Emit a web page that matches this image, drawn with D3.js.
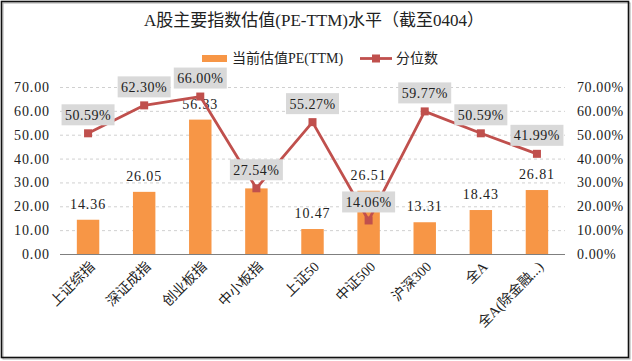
<!DOCTYPE html>
<html><head><meta charset="utf-8">
<script src="https://cdn.jsdelivr.net/npm/d3@7"></script>
<style>body{margin:0;background:#fff}svg{display:block}</style>
</head><body>
<svg id="c" width="632" height="361"></svg>
<script>
const categories = ["上证综指","深证成指","创业板指","中小板指","上证50","中证500","沪深300","全A","全A(除金融...)"];
const peValues = [14.36, 26.05, 56.33, 27.50, 10.47, 26.51, 13.31, 18.43, 26.81];
const percentiles = [50.59, 62.30, 66.00, 27.54, 55.27, 14.06, 59.77, 50.59, 41.99];
const leftTicks = [0,10,20,30,40,50,60,70];
const rightTicks = [0,10,20,30,40,50,60,70];
const title = "A股主要指数估值(PE-TTM)水平（截至0404）";
const seriesNames = ["当前估值PE(TTM)","分位数"];

const FONT = "'Liberation Serif','Noto Sans CJK SC',serif";
const ORANGE = "#F79646", RED = "#C0504D";
const svg = d3.select("#c").style("font-family", FONT);

svg.append("rect").attr("x",2).attr("y",2).attr("width",627).attr("height",356)
  .attr("fill","none").attr("stroke","#aaa").attr("stroke-width",1).attr("transform","translate(1,1)");
svg.append("rect").attr("x",1.5).attr("y",1.5).attr("width",627).attr("height",356)
  .attr("fill","none").attr("stroke","#111").attr("stroke-width",1.6);

const x = d3.scaleBand().domain(categories).range([60,565]).padding(0);
const y = d3.scaleLinear().domain([0,70]).range([254,87]);
const y2 = d3.scaleLinear().domain([0,70]).range([254,87]);

// title
svg.append("text").attr("x",314).attr("y",26).attr("text-anchor","middle")
  .attr("font-size",17).attr("fill","#222").text(title);

// gridlines
svg.append("g").selectAll("line").data(leftTicks.filter(d=>d>0)).join("line")
  .attr("x1",60).attr("x2",565).attr("y1",d=>y(d)+0.5).attr("y2",d=>y(d)+0.5)
  .attr("stroke","#d0d0d0").attr("stroke-dasharray","3,3").attr("stroke-width",1);

// left axis
const la = d3.axisLeft(y).tickValues(leftTicks).tickSize(0).tickPadding(10).tickFormat(d3.format(".2f"));
const lg = svg.append("g").attr("transform","translate(60,0)").call(la);
lg.select(".domain").remove();
lg.selectAll("text").attr("font-size",14).attr("font-family",FONT).attr("fill","#222").attr("letter-spacing","0.9px");

// right axis
const ra = d3.axisRight(y2).tickValues(rightTicks).tickSize(0).tickPadding(12).tickFormat(d=>d3.format(".2f")(d)+"%");
const rg = svg.append("g").attr("transform","translate(565,0)").call(ra);
rg.select(".domain").remove();
rg.selectAll("text").attr("font-size",14).attr("font-family",FONT).attr("fill","#222").attr("letter-spacing","0.6px");

// bars
const bw = x.bandwidth()*0.4;
svg.append("g").selectAll("rect").data(peValues).join("rect")
  .attr("x",(d,i)=>x(categories[i])+x.bandwidth()/2-bw/2).attr("width",bw)
  .attr("y",d=>y(d)).attr("height",d=>y(0)-y(d)).attr("fill",ORANGE);

// baseline
svg.append("line").attr("x1",60).attr("x2",565).attr("y1",y(0)+0.5).attr("y2",y(0)+0.5)
  .attr("stroke","#7f7f7f").attr("stroke-width",1.2);

// category labels
svg.append("g").selectAll("text").data(categories).join("text")
  .attr("transform",d=>`translate(${x(d)+x.bandwidth()/2+4},${y(0)+10}) rotate(-45)`)
  .attr("text-anchor","end").attr("dy","0.35em").attr("font-size",14).attr("fill","#222").text(d=>d);

// bar labels (a label hidden under a percentile box in the original is not drawn)
const cx = i=>x(categories[i])+x.bandwidth()/2;
const hidden = (d,i)=>{
  const ly = y(d)-11, by = y2(percentiles[i])-8;
  return ly > by-26 && ly-10 < by;
};
svg.append("g").selectAll("text").data(peValues.map((d,i)=>({d,i})).filter(o=>!hidden(o.d,o.i))).join("text")
  .attr("x",o=>cx(o.i)).attr("y",o=>y(o.d)-11)
  .attr("text-anchor","middle").attr("font-size",14).attr("fill","#222").attr("letter-spacing","0.9px")
  .text(o=>d3.format(".2f")(o.d));

// line
const line = d3.line().x((d,i)=>cx(i)).y(d=>y2(d));
svg.append("path").datum(percentiles).attr("d",line).attr("fill","none")
  .attr("stroke",RED).attr("stroke-width",2.8).attr("stroke-linejoin","round");
svg.append("g").selectAll("rect").data(percentiles).join("rect")
  .attr("x",(d,i)=>cx(i)-4).attr("y",d=>y2(d)-4).attr("width",8).attr("height",8).attr("fill",RED);

// percent labels with boxes
const pl = svg.append("g").selectAll("g").data(percentiles).join("g")
  .attr("transform",(d,i)=>`translate(${cx(i)},${y2(d)-8})`);
pl.append("rect").attr("x",-26.5).attr("y",-21).attr("width",53).attr("height",21).attr("fill","#D9D9D9");
pl.append("text").attr("x",0).attr("y",-5.5).attr("text-anchor","middle").attr("font-size",14)
  .attr("fill","#222").attr("letter-spacing","0.5px").text(d=>d3.format(".2f")(d)+"%");

// legend
const lgd = svg.append("g");
lgd.append("rect").attr("x",202).attr("y",55).attr("width",25).attr("height",7).attr("fill",ORANGE);
lgd.append("text").attr("x",232).attr("y",63).attr("font-size",14).attr("fill","#222").text(seriesNames[0]);
lgd.append("line").attr("x1",360).attr("x2",392).attr("y1",58.5).attr("y2",58.5).attr("stroke",RED).attr("stroke-width",2.8);
lgd.append("rect").attr("x",372).attr("y",54.5).attr("width",8).attr("height",8).attr("fill",RED);
lgd.append("text").attr("x",396).attr("y",63).attr("font-size",14).attr("fill","#222").text(seriesNames[1]);
</script>
</body></html>
